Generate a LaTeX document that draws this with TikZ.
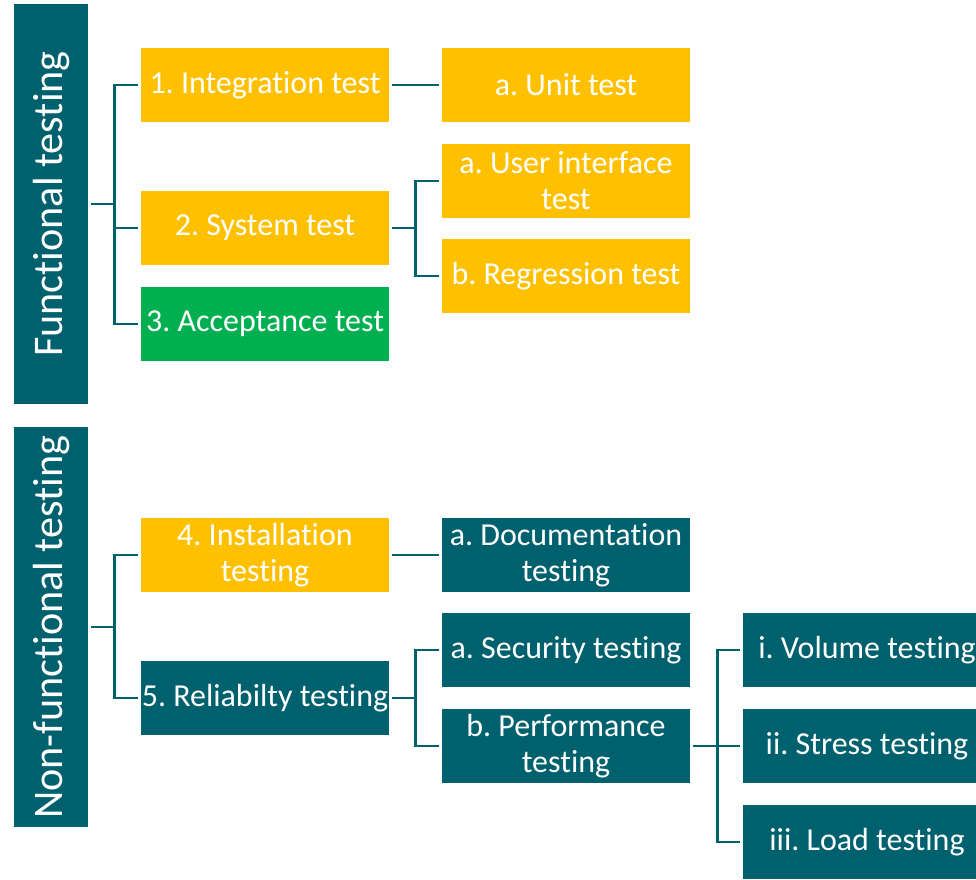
\documentclass[tikz,border=0pt]{standalone}
\usepackage{fontspec}
\setmainfont{Carlito}[RawFeature={-liga}]
\frenchspacing
\definecolor{tealbox}{RGB}{0,97,110}
\definecolor{ambox}{RGB}{255,192,0}
\definecolor{grbox}{RGB}{0,176,80}
\tikzset{
  box/.style={fill=#1, text=white, minimum width=4.96cm, minimum height=1.47cm,
    inner sep=0pt, align=center, font=\fontsize{18.2}{20.5}\selectfont},
  bar/.style={fill=tealbox, text=white, minimum width=1.48cm, minimum height=8cm,
    inner sep=0pt, font=\fontsize{24}{24}\selectfont},
  link/.style={draw=tealbox, line width=1.4pt},
}
\begin{document}
\begin{tikzpicture}[x=0.02cm, y=-0.02cm]
  \clip (0,0) rectangle (976,879);

  % side bars
  \node[bar] (FT) at (51,204) {\rotatebox{90}{Functional testing}};
  \node[bar] (NF) at (51,627) {\rotatebox{90}{Non-functional testing}};

  % functional
  \node[box=ambox] (IT) at (265,85) {1. Integration test};
  \node[box=ambox] (ST) at (265,228) {2. System test};
  \node[box=grbox] (AT) at (265,324) {3. Acceptance test};
  \node[box=ambox] (UT) at (566,85) {a. Unit test};
  \node[box=ambox] (UI) at (566,181) {a. User interface\\test};
  \node[box=ambox] (RG) at (566,276) {b. Regression test};

  % non-functional
  \node[box=ambox] (IN) at (265,555) {4. Installation\\testing};
  \node[box=tealbox] (RL) at (265,698) {5. Reliabilty testing};
  \node[box=tealbox] (DT) at (566,555) {a. Documentation\\testing};
  \node[box=tealbox] (SE) at (566,650) {a. Security testing};
  \node[box=tealbox] (PE) at (566,746) {b. Performance\\testing};
  \node[box=tealbox] (VO) at (867,650) {i. Volume testing};
  \node[box=tealbox] (SR) at (867,746) {ii. Stress testing};
  \node[box=tealbox] (LO) at (867,842) {iii. Load testing};

  % connectors
  \draw[link] ([xshift=0.06cm]FT.east) -- ++(0.46cm,0) coordinate (fj);
  \draw[link] ([xshift=-0.06cm]IT.west) -| (fj);
  \draw[link] ([xshift=-0.06cm]ST.west) -| (fj);
  \draw[link] ([xshift=-0.06cm]AT.west) -| (fj);
  \draw[link] ([xshift=0.06cm]IT.east) -- ([xshift=-0.06cm]UT.west);
  \draw[link] ([xshift=0.06cm]ST.east) -- ++(0.46cm,0) coordinate (sj);
  \draw[link] ([xshift=-0.06cm]UI.west) -| (sj);
  \draw[link] ([xshift=-0.06cm]RG.west) -| (sj);

  \draw[link] ([xshift=0.06cm]NF.east) -- ++(0.46cm,0) coordinate (nj);
  \draw[link] ([xshift=-0.06cm]IN.west) -| (nj);
  \draw[link] ([xshift=-0.06cm]RL.west) -| (nj);
  \draw[link] ([xshift=0.06cm]IN.east) -- ([xshift=-0.06cm]DT.west);
  \draw[link] ([xshift=0.06cm]RL.east) -- ++(0.46cm,0) coordinate (rj);
  \draw[link] ([xshift=-0.06cm]SE.west) -| (rj);
  \draw[link] ([xshift=-0.06cm]PE.west) -| (rj);
  \draw[link] ([xshift=0.06cm]PE.east) -- ++(0.48cm,0) coordinate (pj);
  \draw[link] ([xshift=-0.06cm]VO.west) -| (pj);
  \draw[link] ([xshift=-0.06cm]SR.west) -| (pj);
  \draw[link] ([xshift=-0.06cm]LO.west) -| (pj);
\end{tikzpicture}
\end{document}
